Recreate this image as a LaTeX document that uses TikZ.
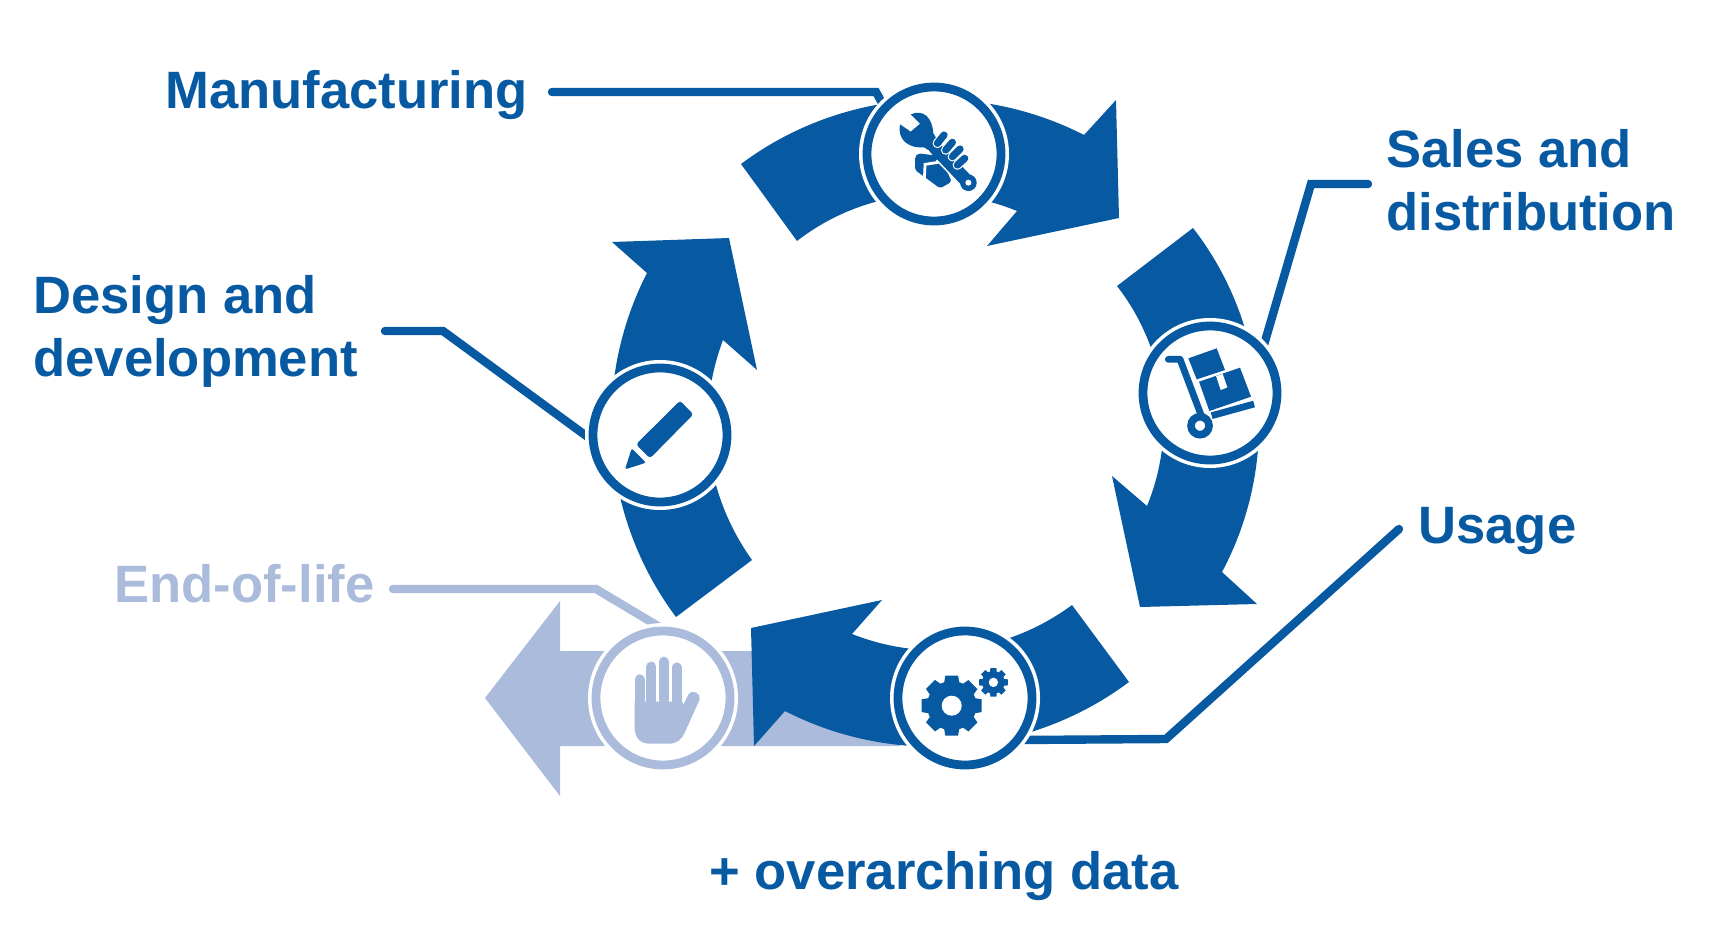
\documentclass[tikz,border=0pt]{standalone}
\usepackage{fontspec}
\setmainfont{Liberation Sans}
\usetikzlibrary{backgrounds}
\definecolor{cyc}{HTML}{075AA2}
\definecolor{faded}{HTML}{ABBBDB}
\newcommand{\gearicon}[5]{%
    \begin{scope}[shift={(#1,#2)}]
        \fill[cyc] (0,0) circle (#4);
        \foreach \a in {0,45,...,315}
            \fill[cyc] (\a-19:#4-3) -- (\a-12:#3) -- (\a+12:#3) -- (\a+19:#4-3) -- cycle;
        \fill[white] (0,0) circle (#5);
    \end{scope}
}

\begin{document}
\begin{tikzpicture}[x=0.5pt, y=-0.5pt,
    stage/.style={circle, draw=#1, line width=4.4pt, fill=white, minimum size=67pt, outer sep=4pt,
        preaction={draw=white, line width=8pt}},
    tag/.style={text=#1, font=\fontsize{26.3}{31.5}\selectfont\bfseries, inner sep=0pt, align=left},
    leader/.style={draw=#1, line width=4.2pt, line cap=round, shorten >=-3pt},
    outbend/.style={bend left=#1, looseness=.92},
    inbend/.style={bend right=#1, looseness=.92}]
    \useasboundingbox (0,0) rectangle (1723,931);

    \node[stage=cyc] (manufacture) at (934,154) {};
    \node[stage=cyc] (sales) at (1210,393) {};
    \node[stage=cyc] (usage) at (965,698) {};
    \node[stage=cyc] (design) at (660,435) {};
    \node[stage=faded] (endlife) at (663,698) {};

    \node[tag=cyc, anchor=base west] (tmanufacture) at (165,109) {Manufacturing};
    \node[tag=cyc, anchor=west] (tsales) at (1386,180) {Sales and\\distribution};
    \node[tag=cyc, anchor=base west] (tusage) at (1418,543) {Usage};
    \node[tag=cyc, anchor=west] (tdesign) at (33,331) {Design and\\development};
    \node[tag=faded, anchor=base west] (tendlife) at (114,602) {End-of-life};
    \node[tag=cyc, anchor=base west] (tdata) at (709,889) {+ overarching data};

    \coordinate (m0) at (552,92);
    \coordinate (m1) at (876,92);
    \coordinate (s0) at (1368,184);
    \coordinate (s1) at (1311,184);
    \coordinate (u0) at (1399,529);
    \coordinate (u1) at (1166,739);
    \coordinate (d0) at (385,331);
    \coordinate (d1) at (443,331);
    \coordinate (e0) at (393,589);
    \coordinate (e1) at (596,589);

    \begin{scope}[on background layer]
        % exit arrow
        \fill[faded] (485,698) -- (560,601) -- (560,651) -- (900,651) -- (900,746) -- (560,746) -- (560,796) -- cycle;
        % cycle arrows
        \fill[cyc] (741,164) to[outbend=32] (1084,135) -- (1116,100) -- (1119,218) -- (987,246) -- (1017,211) to[inbend=30] (797,241) -- cycle;
        \fill[cyc] (1193,228) to[outbend=33] (1222,572) -- (1257,604) -- (1140,607) -- (1112,476) -- (1147,506) to[inbend=30] (1117,286) -- cycle;
        \fill[cyc] (1129,682) to[outbend=32] (785,711) -- (754,746) -- (751,628) -- (882,600) -- (852,634) to[inbend=29] (1072,605) -- cycle;
        \fill[cyc] (676,617) to[outbend=32] (647,273) -- (612,242) -- (729,238) -- (757,370) -- (723,340) to[inbend=28] (752,560) -- cycle;

        \draw[leader=cyc] (m0) -- (m1) -- (manufacture.135);
        \draw[leader=cyc] (s0) -- (s1) -- (sales.43);
        \draw[leader=cyc] (u0) -- (u1) -- (usage.-34);
        \draw[leader=cyc] (d0) -- (d1) -- (design.west);
        \draw[leader=faded] (e0) -- (e1) -- (endlife.97);
    \end{scope}

    % wrench and fist
    \begin{scope}[shift={(720,50)}, x=0.1667pt, y=-0.1667pt]
        \fill[cyc] (572,193) -- (600,221) -- (572,245) -- (540,223) .. controls (530,272) and (570,296) .. (612,292) -- (660,322) -- (655,275) -- (640,250) .. controls (637,205) and (612,176) .. (572,193) -- cycle;
        \fill[cyc, rounded corners=1pt] (585,320) -- (595,310) -- (660,318) -- (695,395) -- (660,415) -- (585,360) -- cycle;
        \draw[white, line width=1.4pt] (655,337) -- (615,343) -- (613,387);
        \draw[white, line width=8pt] (665,315) -- (745,398);
        \draw[cyc, line width=6.6pt, line cap=round] (645,293) -- (745,398);
        \fill[cyc] (745,398) circle (25);
        \fill[white] (745,398) circle (9);
        \foreach \x/\y/\u/\v in {672/255/652/280, 697/277/677/300, 720/297/697/320, 734/325/712/345} {
            \draw[white, line width=4.8pt, line cap=round] (\x,\y) -- (\u,\v);
            \draw[cyc, line width=3.6pt, line cap=round] (\x,\y) -- (\u,\v);
        }
    \end{scope}

    % trolley with boxes
    \begin{scope}[shift={(1100,300)}, x=0.1667pt, y=-0.1667pt]
        \draw[cyc, line width=3.4pt, line cap=round, line join=round] (205,178) -- (240,178) -- (305,350);
        \draw[cyc, line width=3.4pt] (335,347) -- (462,312);
        \draw[cyc, line width=3.8pt] (300,377) circle (27);
        \fill[cyc] (265,175) -- (350,145) -- (375,210) -- (290,238) -- cycle;
        \fill[cyc] (297,245) -- (420,203) -- (453,290) -- (328,333) -- cycle;
        \fill[white] (348,228) -- (362,270) -- (382,262) -- (368,222) -- cycle;
    \end{scope}

    % pencil
    \begin{scope}[shift={(570,350)}, x=0.1667pt, y=-0.1667pt]
        \fill[cyc, rounded corners=1.5pt] (330,152) -- (370,193) -- (240,325) -- (198,283) -- cycle;
        \fill[cyc, rounded corners=1pt] (185,295) -- (228,338) -- (165,358) -- cycle;
    \end{scope}

    % gears
    \begin{scope}[shift={(740,590)}, x=0.1667pt, y=-0.1667pt]
        \gearicon{635}{347}{92}{74}{30}
        \gearicon{760}{277}{44}{34}{14}
    \end{scope}

    % stop hand
    \begin{scope}[shift={(470,580)}, x=0.1914pt, y=-0.1667pt]
        \foreach \x/\y in {443/298, 474/260, 506/245, 540/262}
            \draw[faded, line width=5pt, line cap=round] (\x,\y) -- (\x,400);
        \fill[faded] (430,365) -- (430,440) .. controls (430,475) and (445,491) .. (470,491) -- (520,491) .. controls (540,491) and (553,478) .. (560,460) -- (600,358) .. controls (604,340) and (580,325) .. (570,345) -- (557,375) -- (555,365) -- cycle;
    \end{scope}
\end{tikzpicture}
\end{document}
